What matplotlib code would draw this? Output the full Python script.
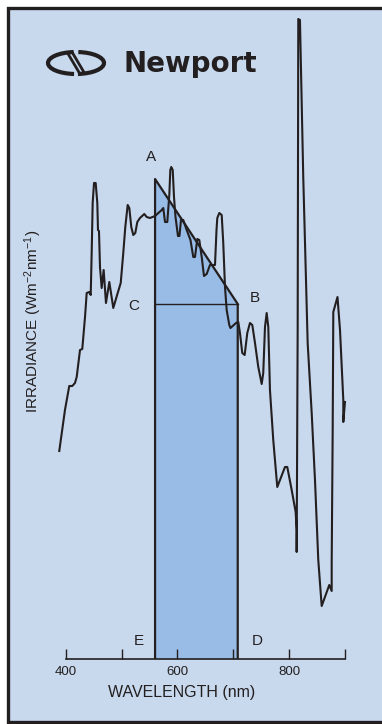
import matplotlib.pyplot as plt
from matplotlib.patches import Rectangle, Arc, Polygon

plt.rcParams['font.family'] = ['Liberation Sans', 'DejaVu Sans']
plt.rcParams['mathtext.fontset'] = 'custom'
plt.rcParams['mathtext.rm'] = 'Liberation Sans'
plt.rcParams['mathtext.it'] = 'Liberation Sans'

# spectrum (wavelength in nm, irradiance in arbitrary units)
wavelength = [388.5, 398.7, 406.4, 411.8, 416.6, 419.7, 425.6, 429.7, 434.6, 437.6,
              442.2, 444.8, 446.5, 448.3, 450.7, 453.7, 456.6, 457.8, 459.6, 461.4,
              464.4, 468.0, 472.1, 478.1, 485.2, 493.1, 498.5, 503.1, 506.7, 511.0,
              513.9, 517.4, 521.0, 524.6, 528.2, 533.0, 540.7, 545.0, 550.9, 559.9,
              571.9, 574.7, 577.8, 581.9, 585.5, 587.3, 589.0, 591.6, 593.9, 596.6,
              601.0, 603.7, 606.4, 610.5, 616.6, 623.4, 628.4, 631.5, 635.6, 639.2,
              643.5, 647.6, 652.4, 658.3, 667.3, 670.0, 671.4, 675.0, 679.3, 682.1,
              685.2, 688.2, 692.9, 695.0, 704.9, 709.0, 712.0, 716.1, 720.4, 725.1,
              729.9, 734.1, 738.9, 744.8, 750.9, 753.7, 756.8, 759.8, 762.7, 765.7,
              771.6, 778.8, 792.6, 796.7, 804.6, 811.7, 813.5, 813.5, 815.3, 816.4,
              819.4, 825.3, 833.2, 840.4, 846.3, 852.2, 858.3, 871.9, 876.2, 876.2,
              878.0, 879.1, 886.6, 891.1, 897.0, 897.0, 900.0]
irradiance = [2.08, 2.49, 2.73, 2.73, 2.76, 2.82, 3.09, 3.10, 3.42, 3.66,
              3.67, 3.64, 4.06, 4.56, 4.76, 4.76, 4.56, 4.29, 4.28, 3.92,
              3.71, 3.89, 3.56, 3.77, 3.51, 3.66, 3.76, 4.06, 4.32, 4.54,
              4.51, 4.32, 4.24, 4.26, 4.37, 4.41, 4.45, 4.42, 4.41, 4.43,
              4.49, 4.51, 4.37, 4.37, 4.64, 4.89, 4.92, 4.89, 4.62, 4.42,
              4.23, 4.23, 4.39, 4.39, 4.29, 4.19, 4.02, 4.02, 4.20, 4.19,
              4.02, 3.83, 3.85, 3.94, 3.94, 4.29, 4.41, 4.46, 4.44, 4.16,
              3.72, 3.49, 3.34, 3.31, 3.36, 3.37, 3.26, 3.06, 3.04, 3.26,
              3.36, 3.34, 3.16, 2.92, 2.75, 2.86, 3.32, 3.46, 3.32, 2.69,
              2.19, 1.72, 1.92, 1.92, 1.69, 1.47, 1.29, 1.07, 3.29, 6.40,
              6.39, 4.82, 3.16, 2.46, 1.79, 0.99, 0.53, 0.74, 0.68, 0.96,
              2.29, 3.47, 3.62, 3.29, 2.59, 2.37, 2.57]

# shaded band: E/D are the wavelength limits, A and B the top corners
band_wl = [560, 708]
point_a = 4.80
point_b = 3.55

major_ticks = [400, 600, 800]
minor_ticks = [500, 700, 900]

ink = '#231f20'
panel = '#c8d9ee'
band = '#98bce5'

fig = plt.figure(figsize=(3.82, 7.24), dpi=100)

# background panel in pixel coordinates (frame + logo)
bg = fig.add_axes([0, 0, 1, 1])
bg.set_xlim(0, 382)
bg.set_ylim(724, 0)
bg.axis('off')
bg.add_patch(Rectangle((7.7, 8.3), 420, 713.2, facecolor=panel, edgecolor=ink, lw=2.4))

# Newport mark: ellipse split by a double slash
bg.add_patch(Arc((76, 63), 56, 22, theta1=100, theta2=258, color=ink, lw=3.0))
bg.add_patch(Arc((76, 63), 56, 22, theta1=-78, theta2=80, color=ink, lw=3.0))
bg.plot([67, 80], [52, 74], color=ink, lw=2.0, solid_capstyle='butt')
bg.plot([72, 85], [52, 74], color=ink, lw=2.0, solid_capstyle='butt')
bg.text(123, 72, 'Newport', family='DejaVu Sans', weight='bold', fontsize=20,
        color=ink, ha='left', va='baseline')

ax = fig.add_axes([40 / 382, 65 / 724, 330 / 382, 647 / 724])
ax.patch.set_alpha(0)
ax.set_xlim(354.0, 944.8)
ax.set_ylim(0, 6.47)

x0, x1 = band_wl
ax.add_patch(Polygon([(x0, 0), (x0, point_a), (x1, point_b), (x1, 0)],
                     closed=True, facecolor=band, edgecolor='none'))
ax.plot([x0, x0, x1, x1], [0, point_a, point_b, 0], color=ink, lw=1.6)
ax.plot([x0, x1], [point_b, point_b], color=ink, lw=1.0)

ax.plot(wavelength, irradiance, color=ink, lw=1.5, solid_joinstyle='round')

for s in ['top', 'right', 'left']:
    ax.spines[s].set_visible(False)
ax.spines['bottom'].set_bounds(400, 900)
ax.spines['bottom'].set_color(ink)
ax.spines['bottom'].set_linewidth(1.2)
ax.set_yticks([])
ax.set_xticks(major_ticks)
ax.set_xticks(minor_ticks, minor=True)
ax.tick_params(axis='x', which='both', direction='in', length=7.5, width=1.0,
               color=ink, labelcolor=ink, labelsize=9.5, pad=5)

lab = dict(fontsize=11, color=ink, ha='center', va='center')
ax.text(552.7, 5.02, 'A', **lab)
ax.text(738.9, 3.61, 'B', **lab)
ax.text(522.3, 3.53, 'C', **lab)
ax.text(742.4, 0.18, 'D', **lab)
ax.text(531.2, 0.18, 'E', **lab)

fig.text(182 / 382, 1 - 692 / 724, 'WAVELENGTH (nm)', fontsize=11.5, color=ink,
         ha='center', va='center')
fig.text(33 / 382, 1 - 321 / 724, r'IRRADIANCE (Wm$^{-2}$nm$^{-1}$)', fontsize=11,
         color=ink, ha='center', va='center', rotation=90)

fig.savefig('out.png', dpi=100, facecolor='white')
